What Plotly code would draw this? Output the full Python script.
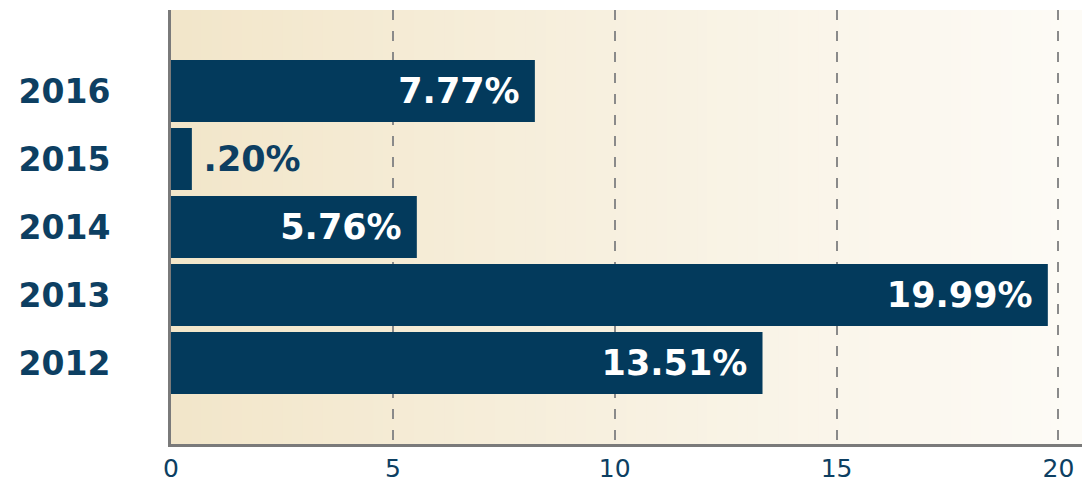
import plotly.graph_objects as go

# Data (bottom to top)
years = ["2012", "2013", "2014", "2015", "2016"]
bar_lengths = [13.33, 19.76, 5.54, 0.47, 8.20]       # bar lengths as drawn
bar_labels = ["13.51%", "19.99%", "5.76%", ".20%", "7.77%"]  # printed labels
x_ticks = [0, 5, 10, 15, 20]

BAR = "#033a5c"
TXT = "#0d3f62"
FONT = "DejaVu Sans"
NBSP = "\u00a0"
QSP = "\u2005"

inside = [v > 2 for v in bar_lengths]
texts = [(lab + NBSP) if ins else (QSP + lab) for lab, ins in zip(bar_labels, inside)]
positions = ["inside" if ins else "outside" for ins in inside]

fig = go.Figure()
fig.add_trace(go.Bar(
    x=bar_lengths, y=years, orientation="h",
    marker=dict(color=BAR, line=dict(width=0)),
    text=texts, textposition=positions, insidetextanchor="end",
    insidetextfont=dict(family=FONT, size=35, color="white", weight="bold"),
    outsidetextfont=dict(family=FONT, size=35, color=TXT, weight="bold"),
    constraintext="none", cliponaxis=False,
    hoverinfo="skip",
))

# Gradient background made of thin paper-referenced strips
c0 = (242, 230, 202)
c1 = (253, 251, 246)
n = 90
shapes = []
for i in range(n):
    t = i / (n - 1)
    col = tuple(round(c0[k] + (c1[k] - c0[k]) * t) for k in range(3))
    shapes.append(dict(
        type="rect", xref="paper", yref="paper",
        x0=i / n, x1=(i + 1) / n + 0.002, y0=0, y1=1,
        fillcolor="rgb(%d,%d,%d)" % col, line=dict(width=0), layer="below",
    ))

fig.update_layout(
    width=1082, height=483,
    margin=dict(l=171, r=0, t=10, b=39),
    paper_bgcolor="white", plot_bgcolor="rgba(0,0,0,0)",
    showlegend=False, bargap=0.088,
    shapes=shapes,
    xaxis=dict(
        range=[0, 20.53], tickvals=x_ticks, ticktext=[str(t) for t in x_ticks],
        showgrid=True, gridcolor="#8a8a8a", gridwidth=1.5, griddash="10px,11px",
        zeroline=False, showline=True, linecolor="#7a7a7a", linewidth=3,
        ticks="", automargin=False,
        tickfont=dict(family=FONT, size=25, color=TXT),
        fixedrange=True,
    ),
    yaxis=dict(
        type="category", categoryorder="array", categoryarray=years,
        range=[-1.19, 5.19], showgrid=False, zeroline=False,
        showline=True, linecolor="#7a7a7a", linewidth=3,
        ticks="", ticklabelstandoff=51, automargin=False,
        tickfont=dict(family=FONT, size=33, color=TXT, weight="bold"),
        fixedrange=True,
    ),
)

fig.write_html(
    "out.html",
    config={"displayModeBar": False},
    post_script="document.body.style.margin='0px';document.body.style.overflow='hidden';",
)
